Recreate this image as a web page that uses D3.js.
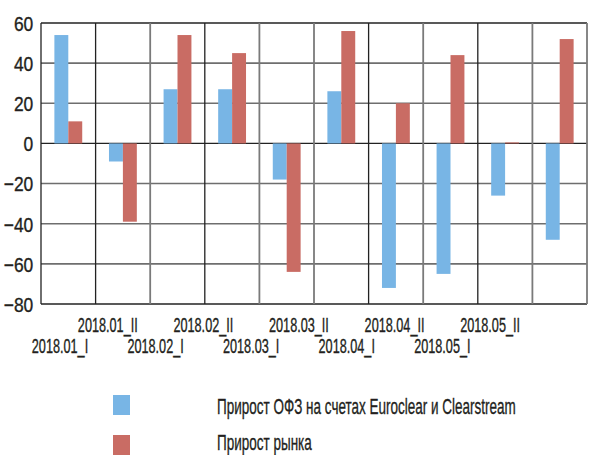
<!DOCTYPE html>
<html><head><meta charset="utf-8">
<script src="https://cdn.jsdelivr.net/npm/d3@7"></script>
<style>
html,body{margin:0;padding:0;background:#fff;}
text{font-family:"Liberation Sans",Arial,sans-serif;fill:#231f20;stroke:#231f20;stroke-width:0.35px;}
</style></head>
<body><svg id="c" width="597" height="455"></svg>
<script>
const categories = ["2018.01_I","2018.01_II","2018.02_I","2018.02_II","2018.03_I","2018.03_II","2018.04_I","2018.04_II","2018.05_I","2018.05_II"];
const ofzValues = [54, -9, 27, 27, -18, 26, -72, -65, -26, -48];
const marketValues = [11, -39, 54, 45, -64, 56, 20, 44, 0.5, 52];
const yTicks = [60, 40, 20, 0, -20, -40, -60, -80];
const seriesNames = ["Прирост ОФЗ на счетах Euroclear и Clearstream", "Прирост рынка"];
const colors = ["#78b5e5", "#c96c64"];

const svg = d3.select("#c");
const L = 41, R = 587, T = 23, B = 304;

const x0 = d3.scaleBand().domain(categories).range([L, R]).padding(0);
const x1 = d3.scaleBand().domain([0, 1]).range([x0.bandwidth()*0.245, x0.bandwidth()*0.755]).padding(0);
const y = d3.scaleLinear().domain([-80, 60]).range([B, T]);
const xl = d3.scalePoint().domain(categories).range([59.5, 489.6]);

const g = svg.append("g");
// horizontal gridlines
const hDark = new Set([60, 0, -80]);
g.selectAll("line.h").data(yTicks).join("line")
  .attr("x1", L).attr("x2", R)
  .attr("y1", d => y(d)).attr("y2", d => y(d))
  .attr("stroke", d => hDark.has(d) ? "#222" : "#6e6e6e")
  .attr("stroke-width", d => hDark.has(d) ? 1.3 : 1.6);
// vertical gridlines at category boundaries
const vDark = new Set([1, 3, 6, 8]);
const bounds = categories.map((c, i) => i).slice(1).concat([10]);
g.selectAll("line.v").data(bounds).join("line")
  .attr("x1", i => i < 10 ? x0(categories[i]) : R)
  .attr("x2", i => i < 10 ? x0(categories[i]) : R)
  .attr("y1", T).attr("y2", B)
  .attr("stroke", i => vDark.has(i) ? "#222" : "#7a7a7a")
  .attr("stroke-width", i => vDark.has(i) ? 1.3 : 1.8);
g.append("line").attr("x1", L).attr("x2", L).attr("y1", T).attr("y2", B).attr("stroke", "#222").attr("stroke-width", 1.3);

// bars
const series = [ofzValues, marketValues];
series.forEach((vals, s) => {
  svg.append("g").selectAll("rect").data(vals).join("rect")
    .attr("x", (d, i) => x0(categories[i]) + x1(s))
    .attr("width", x1.bandwidth())
    .attr("y", d => y(Math.max(0, d)))
    .attr("height", d => Math.abs(y(d) - y(0)))
    .attr("fill", colors[s]);
});

// y axis labels
const yAxis = d3.axisLeft(y).tickValues(yTicks).tickSize(0).tickPadding(8).tickFormat(d3.format("d"));
const ya = svg.append("g").attr("transform", `translate(${L},0)`).call(yAxis);
ya.select(".domain").remove();
ya.selectAll("text").attr("font-size", 20.5).attr("font-family", null).attr("fill", "#231f20")
  .attr("x", 0).attr("dy", "0.36em").attr("transform", "translate(-7.7,0) scale(0.85,1)");

// x labels, staggered
const xAxis = d3.axisBottom(xl).tickSize(0).tickPadding(0);
const xa = svg.append("g").call(xAxis);
xa.select(".domain").remove();
xa.selectAll(".tick text")
  .attr("font-size", 19.5).attr("font-family", null).attr("fill", "#231f20")
  .attr("y", 0).attr("dy", 0)
  .attr("transform", (d, i) => `translate(0,${i % 2 ? 331.5 : 352.5}) scale(0.65,1)`);

// legend
const lg = svg.append("g");
seriesNames.forEach((name, i) => {
  const yy = 395 + i * 40;
  lg.append("rect").attr("x", 113).attr("y", yy).attr("width", 17).attr("height", 20).attr("fill", colors[i]);
  lg.append("text").attr("transform", `translate(217,${414.3 + i * 36}) scale(0.6,1)`).attr("font-size", 22.5).text(name);
});
</script></body></html>
